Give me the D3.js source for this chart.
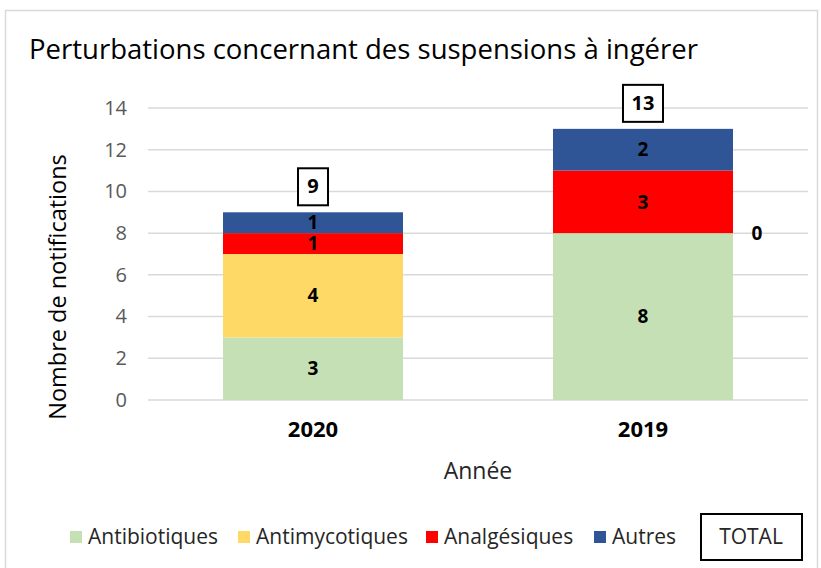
<!DOCTYPE html>
<html>
<head>
<meta charset="utf-8">
<script src="https://cdn.jsdelivr.net/npm/d3@7"></script>
<style>
  body { margin: 0; background: #fff; }
  text { font-family: "Open Sans", "Noto Sans", sans-serif; }
</style>
</head>
<body>
<svg id="chart" width="821" height="568"></svg>
<script>
// data
const years = ["2020", "2019"];
const antibiotiques = [3, 8];
const antimycotiques = [4, 0];
const analgesiques = [1, 3];
const autres = [1, 2];
const totals = [9, 13];
const seriesNames = ["Antibiotiques", "Antimycotiques", "Analgésiques", "Autres"];
const seriesColors = ["#c5e0b4", "#ffd966", "#ff0000", "#2f5597"];
const yTicks = [0, 2, 4, 6, 8, 10, 12, 14];

const svg = d3.select("#chart");

// outer chart frame
svg.append("rect")
  .attr("x", 5.5).attr("y", 10.5)
  .attr("width", 812).attr("height", 570)
  .attr("fill", "#fff")
  .attr("stroke", "#d9d9d9")
  .attr("stroke-width", 1.5);

const margin = { top: 108, left: 148, right: 13, bottom: 168 },
  width = 821 - margin.left - margin.right,
  height = 568 - margin.top - margin.bottom;

const g = svg.append("g").attr("transform", `translate(${margin.left},${margin.top})`);

const x = d3.scaleBand()
  .domain(years)
  .range([0, width])
  .paddingInner(0.4545)
  .paddingOuter(0.2273);

const y = d3.scaleLinear()
  .domain([0, 14])
  .range([height, 0]);

// gridlines
g.append("g")
  .selectAll("line")
  .data(yTicks)
  .join("line")
  .attr("x1", 0).attr("x2", width)
  .attr("y1", d => y(d)).attr("y2", d => y(d))
  .attr("stroke", "#d9d9d9")
  .attr("stroke-width", 1.5);

// y axis labels
const yAxis = g.append("g")
  .call(d3.axisLeft(y).tickValues(yTicks).tickSize(0).tickPadding(21));
yAxis.select(".domain").remove();
yAxis.selectAll("text")
  .attr("font-size", 20)
  .attr("fill", "#595959")
  .style("font-family", "'Open Sans', sans-serif");

// x axis labels
const xAxis = g.append("g")
  .attr("transform", `translate(0,${height})`)
  .call(d3.axisBottom(x).tickSize(0).tickPadding(21));
xAxis.select(".domain").remove();
xAxis.selectAll("text")
  .attr("font-size", 22)
  .attr("font-weight", "bold")
  .attr("fill", "#000")
  .style("font-family", "'Open Sans', sans-serif");

// stacked data
const rows = years.map((yr, i) => ({
  year: yr,
  Antibiotiques: antibiotiques[i],
  Antimycotiques: antimycotiques[i],
  "Analgésiques": analgesiques[i],
  Autres: autres[i]
}));
const stacked = d3.stack().keys(seriesNames)(rows);

const layers = g.selectAll(".layer")
  .data(stacked)
  .join("g")
  .attr("class", "layer")
  .attr("fill", (d, i) => seriesColors[i]);

layers.selectAll("rect")
  .data(d => d)
  .join("rect")
  .attr("x", d => x(d.data.year))
  .attr("width", x.bandwidth())
  .attr("y", d => y(d[1]))
  .attr("height", d => y(d[0]) - y(d[1]));

// segment labels (zero value goes beside the bar)
layers.selectAll("text")
  .data(d => d.map(v => ({ v, key: d.key })))
  .join("text")
  .attr("x", d => d.v[1] - d.v[0] === 0 ? x(d.v.data.year) + x.bandwidth() + 24 : x(d.v.data.year) + x.bandwidth() / 2)
  .attr("y", d => y((d.v[0] + d.v[1]) / 2))
  .attr("dy", "0.35em")
  .attr("text-anchor", "middle")
  .attr("font-size", 19)
  .attr("font-weight", "bold")
  .attr("fill", "#000")
  .text(d => d.v[1] - d.v[0]);

// total boxes
const tot = g.selectAll(".total")
  .data(years.map((yr, i) => ({ year: yr, total: totals[i] })))
  .join("g")
  .attr("class", "total")
  .attr("transform", d => `translate(${x(d.year) + x.bandwidth() / 2},${y(d.total) - 26})`);
tot.append("rect")
  .attr("x", d => d.total >= 10 ? -20 : -15)
  .attr("y", -18)
  .attr("width", d => d.total >= 10 ? 40 : 30)
  .attr("height", 37)
  .attr("fill", "#fff")
  .attr("stroke", "#000")
  .attr("stroke-width", 2);
tot.append("text")
  .attr("text-anchor", "middle")
  .attr("dy", "0.35em")
  .attr("font-size", 20)
  .attr("font-weight", "bold")
  .text(d => d.total);

// title
svg.append("text")
  .attr("x", 29).attr("y", 59)
  .attr("font-size", 27.5)
  .attr("fill", "#000")
  .text("Perturbations concernant des suspensions à ingérer");

// axis titles
svg.append("text")
  .attr("x", margin.left + width / 2).attr("y", 479)
  .attr("text-anchor", "middle")
  .attr("font-size", 23)
  .attr("fill", "#262626")
  .text("Année");

svg.append("text")
  .attr("transform", "translate(66,287) rotate(-90)")
  .attr("text-anchor", "middle")
  .attr("font-size", 23.5)
  .attr("fill", "#000")
  .text("Nombre de notifications");

// legend
const legendX = [70, 238, 426, 594];
const legend = svg.append("g");
seriesNames.forEach((name, i) => {
  legend.append("rect")
    .attr("x", legendX[i]).attr("y", 531)
    .attr("width", 12).attr("height", 12)
    .attr("fill", seriesColors[i]);
  legend.append("text")
    .attr("x", legendX[i] + 18).attr("y", 537)
    .attr("dy", "0.35em")
    .attr("font-size", 21)
    .attr("fill", "#262626")
    .text(name);
});
legend.append("rect")
  .attr("x", 701).attr("y", 514)
  .attr("width", 101).attr("height", 46)
  .attr("fill", "#fff")
  .attr("stroke", "#000")
  .attr("stroke-width", 2);
legend.append("text")
  .attr("x", 751).attr("y", 537)
  .attr("dy", "0.35em")
  .attr("text-anchor", "middle")
  .attr("font-size", 21)
  .attr("fill", "#262626")
  .text("TOTAL");
</script>
</body>
</html>
